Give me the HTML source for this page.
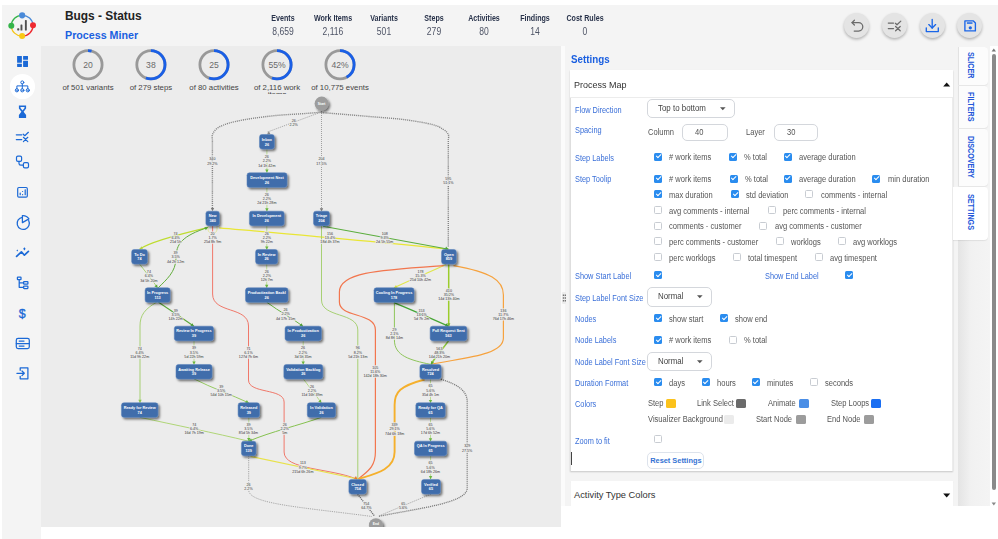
<!DOCTYPE html>
<html><head><meta charset="utf-8">
<style>
*{box-sizing:border-box;margin:0;padding:0}
html,body{width:998px;height:539px;overflow:hidden;background:#fff;font-family:"Liberation Sans",sans-serif;position:relative}
.a{position:absolute}
.t{position:absolute;line-height:1;white-space:nowrap}
#side{left:2px;top:5px;width:39px;height:534px;background:#f4f4f4}
#head{left:41px;top:5px;width:957px;height:41px;background:#f4f4f4}
#graph{left:41px;top:46px;width:520px;height:481px;background:#ececec;overflow:hidden}
#split{left:561px;top:46px;width:4px;height:460px;background:#fbfbfb}
#panel{left:565px;top:46px;width:433px;height:460px;background:#f4f4f4}
.st{font-weight:bold;font-size:8.4px;color:#28324a;text-align:center;width:50px;transform:scaleX(.85)}
.sv{font-size:10px;color:#4e5466;text-align:center;width:50px;transform:scaleX(.855)}
.btn{width:25px;height:25px;border-radius:50%;background:#e4e4e4;box-shadow:0 1.5px 3px rgba(0,0,0,.28)}
.lbl{font-size:7.5px;color:#3a6fd8}
.ct{font-size:7.6px;color:#555}
.cb{position:absolute;width:8px;height:8px;border-radius:1.5px;background:#2a8cef}
.cb::after{content:"";position:absolute;left:2.75px;top:0.9px;width:2.2px;height:4.4px;border:solid #fff;border-width:0 1.3px 1.3px 0;transform:rotate(45deg)}
.cu{position:absolute;width:8px;height:8px;border-radius:1.5px;border:1px solid #c8ccd2;background:#fff}
.dd{position:absolute;border:1px solid #d4d7dc;border-radius:5px;background:#fff}
.sw{position:absolute;width:10px;height:9px;border-radius:1.5px}
.tab{position:absolute;left:958px;width:30px;background:#fcfcfc;border-radius:0 4px 4px 0;box-shadow:inset 1px 0 0 #e2e2e2, 0 1px 1px rgba(0,0,0,.06)}
.tabt{position:absolute;font-weight:bold;font-size:8.4px;color:#2458da;transform-origin:0 0;transform:rotate(90deg) scaleX(0.86);white-space:nowrap;line-height:1}
</style></head><body>
<div class="a" id="side"></div>
<div class="a" id="head"></div>
<div class="a" id="graph"></div>
<div class="a" id="split"></div>
<div class="a" id="panel"></div>

<!-- logo -->
<svg class="a" style="left:0;top:0" width="45" height="46" viewBox="0 0 45 46">
 <path d="M22.15 15.3 A10.6 10.6 0 0 1 33 25.3" fill="none" stroke="#4a8ad8" stroke-width="1.3"/>
 <path d="M33 25.3 A10.6 10.6 0 0 1 22.15 36.1" fill="none" stroke="#ee2a30" stroke-width="1.3"/>
 <path d="M22.15 36.1 A10.6 10.6 0 0 1 11.3 25.7" fill="none" stroke="#f5c518" stroke-width="1.3"/>
 <path d="M11.3 25.7 A10.6 10.6 0 0 1 22.15 15.3" fill="none" stroke="#35b44a" stroke-width="1.3"/>
 <circle cx="22.15" cy="15.3" r="3.1" fill="#4a8ad8"/>
 <circle cx="33" cy="25.3" r="3" fill="#ee2a30"/>
 <circle cx="22.15" cy="36.1" r="3" fill="#f8c815"/>
 <circle cx="11.3" cy="25.7" r="3" fill="#35b44a"/>
 <rect x="17.2" y="28.3" width="2.1" height="2.1" rx=".6" fill="#505050"/>
 <rect x="20.5" y="24.5" width="1.9" height="6" rx=".6" fill="#505050"/>
 <rect x="24.9" y="20.1" width="1.9" height="10.4" rx=".6" fill="#505050"/>
</svg>

<div class="t" style="left:65px;top:11px;font-size:11.9px;font-weight:bold;color:#222">Bugs - Status</div>
<div class="t" style="left:65px;top:30px;font-size:10.7px;font-weight:bold;color:#1a5fe0">Process Miner</div>

<!-- stats -->
<div class="t st" style="left:257.5px;top:14.3px">Events</div><div class="t sv" style="left:257.5px;top:26.5px">8,659</div>
<div class="t st" style="left:308px;top:14.3px">Work Items</div><div class="t sv" style="left:308px;top:26.5px">2,116</div>
<div class="t st" style="left:358.5px;top:14.3px">Variants</div><div class="t sv" style="left:358.5px;top:26.5px">501</div>
<div class="t st" style="left:409px;top:14.3px">Steps</div><div class="t sv" style="left:409px;top:26.5px">279</div>
<div class="t st" style="left:459px;top:14.3px">Activities</div><div class="t sv" style="left:459px;top:26.5px">80</div>
<div class="t st" style="left:509.5px;top:14.3px">Findings</div><div class="t sv" style="left:509.5px;top:26.5px">14</div>
<div class="t st" style="left:560px;top:14.3px">Cost Rules</div><div class="t sv" style="left:560px;top:26.5px">0</div>

<!-- top buttons -->
<div class="a btn" style="left:844px;top:13.3px"></div>
<div class="a btn" style="left:881.7px;top:13.3px"></div>
<div class="a btn" style="left:919.5px;top:13.3px"></div>
<div class="a btn" style="left:957px;top:13.3px"></div>


<!-- top button icons -->
<svg class="a" style="left:0;top:0" width="998" height="46" viewBox="0 0 998 46">
 <g fill="none" stroke="#6a6a6a" stroke-width="1.25" stroke-linecap="round" stroke-linejoin="round">
  <path d="M852 22.6 H858.6 A4.2 4.2 0 0 1 858.6 31 H854.2"/>
  <path d="M854.4 20.2 L852 22.6 L854.4 25"/>
  <path d="M888.3 23.1 H893.5 M888.3 28.6 H893.5"/>
  <path d="M895.4 23.3 L897 24.8 L900.8 21.1"/>
  <path d="M895.6 26.5 L900.2 30.8 M900.2 26.5 L895.6 30.8"/>
 </g>
 <g fill="none" stroke="#1a66e8" stroke-width="1.35" stroke-linecap="round" stroke-linejoin="round">
  <path d="M932.2 19.5 V28"/>
  <path d="M928.8 24.6 L932.2 28 L935.6 24.6"/>
  <path d="M926.3 27.8 V31.6 H938.3 V27.8"/>
  <path d="M964.9 20.9 H973.4 L975.4 22.9 V30.9 H964.9 Z"/>
 </g>
 <rect x="966.9" y="22.3" width="5.6" height="1.5" fill="#1a66e8"/>
 <circle cx="970.3" cy="27.8" r="1.65" fill="#1a66e8"/>
</svg>

<!-- sidebar icons -->
<div class="a" style="left:10.2px;top:74.2px;width:24.6px;height:24.6px;border-radius:50%;background:#fff"></div>
<svg class="a" style="left:0;top:46px" width="41" height="350" viewBox="0 46 41 350">
 <g fill="#1b69d6">
  <rect x="17.1" y="56" width="4.8" height="6.8" rx=".3"/>
  <rect x="17.1" y="63.8" width="4.8" height="3.1" rx=".3"/>
  <rect x="23.1" y="56" width="4.9" height="3.8" rx=".3"/>
  <rect x="23.1" y="60.8" width="4.9" height="6.1" rx=".3"/>
 </g>
 <g fill="none" stroke="#1b69d6" stroke-width="1" stroke-linecap="round" stroke-linejoin="round">
  <circle cx="22.3" cy="82.4" r="1.5"/>
  <path d="M22.3 83.9 V88.6 M16.9 88.6 V85.9 H27.8 V88.6"/>
  <circle cx="16.9" cy="90.3" r="1.6"/>
  <circle cx="22.3" cy="90.3" r="1.6"/>
  <circle cx="27.8" cy="90.3" r="1.6"/>
  <path d="M16.2 90.3 H17.6 M21.6 90.3 H23 M27.1 90.3 H28.5" stroke-width=".8"/>
 </g>
 <!-- hourglass -->
 <path fill-rule="evenodd" d="M18.9 105.6 H26.1 V108.4 L23.6 111.8 L26.1 114.9 V118 H18.9 V114.9 L21.4 111.8 L18.9 108.4 Z M20.5 107.1 H24.5 V108 L22.5 110.6 L20.5 108 Z" fill="#1b69d6"/>
 <g fill="none" stroke="#1b69d6" stroke-width="1.2" stroke-linecap="round" stroke-linejoin="round">
  <path d="M16.3 134.8 H21.8 M16.3 139.6 H21.8"/>
  <path d="M23.2 134.2 L24.8 135.7 L28.4 132.3"/>
  <path d="M23.4 137.3 L27.8 141.6 M27.8 137.3 L23.4 141.6"/>
  <!-- workflow -->
  <rect x="16.5" y="156.2" width="5.1" height="5.1" rx="1.4"/>
  <rect x="23.4" y="162.7" width="5.1" height="5.1" rx="1.4"/>
  <path d="M19 161.3 V163.5 Q19 165.2 20.8 165.2 H23.4"/>
  <!-- report -->
  <rect x="17.7" y="187.5" width="9.6" height="9.6" rx="1.2"/>
 </g>
 <g fill="#1b69d6">
  <rect x="19.6" y="192.4" width="1.2" height="2.8" rx=".5"/>
  <rect x="22" y="190.9" width="1.2" height="1.2" rx=".5"/>
  <rect x="22" y="193.9" width="1.2" height="1.3" rx=".5"/>
  <rect x="24.6" y="189.2" width="1.2" height="6" rx=".5"/>
 </g>
 <g fill="none" stroke="#1b69d6" stroke-width="1.25" stroke-linecap="round" stroke-linejoin="round">
  <!-- pie -->
  <path d="M28.7 220.6 A6.1 6.1 0 1 1 22.4 217.3"/>
  <path d="M22.4 222.6 V215.6 A7 7 0 0 1 28.9 218.9 Z"/>
  <!-- trend -->
  <path d="M16.6 256.4 L21.4 251.8 L24.4 255.2 L28.4 251.4" stroke-width="1.7"/>
  <!-- tree -->
  <rect x="17.4" y="277.1" width="3.6" height="2.6" rx=".5"/>
  <path d="M19.2 279.7 V287.3 H23.6 M19.2 282.9 H23.6"/>
  <rect x="23.6" y="281.6" width="4.3" height="2.6" rx=".5"/>
  <rect x="23.6" y="286" width="4.3" height="2.6" rx=".5"/>
  <!-- server -->
  <rect x="16.3" y="338.4" width="13" height="10.2" rx="1.8"/>
  <path d="M16.3 343.5 H29.3 M19.2 341 H24 M19.2 346 H24"/>
  <!-- login -->
  <path d="M20.2 370.3 V367.8 H27.9 V378.8 H20.2 V376.3"/>
  <path d="M16.9 373.3 H24.3 M22 371 L24.3 373.3 L22 375.6"/>
 </g>
 <path d="M17.3 249.6 l.8 .9 -.8 .9 -.8 -.9z" fill="#1b69d6"/>
 <path d="M24.4 247.2 l1.2 1.6 -1.2 1.6 -1.2 -1.6z" fill="#1b69d6"/>
 <text x="22.2" y="318.4" font-family="Liberation Sans" font-size="12.4" fill="#1b69d6" stroke="#1b69d6" stroke-width=".35" text-anchor="middle">$</text>
</svg>

<!-- circle stats -->
<div class="a" style="left:41px;top:46px;width:520px;height:47.6px;overflow:hidden">
<svg class="a" style="left:0;top:0" width="520" height="48" viewBox="41 46 520 48">
 <g fill="none" stroke-width="2.8">
  <circle cx="88" cy="64.8" r="14.1" stroke="#999"/>
  <circle cx="150.9" cy="64.8" r="14.1" stroke="#999"/>
  <circle cx="214" cy="64.8" r="14.1" stroke="#999"/>
  <circle cx="277" cy="64.8" r="14.1" stroke="#999"/>
  <circle cx="340" cy="64.8" r="14.1" stroke="#999"/>
  <g stroke="#1a5fe6" stroke-dasharray="var(--d) 200" transform-origin="0 0">
   <circle cx="88" cy="64.8" r="14.1" transform="rotate(-90 88 64.8)" stroke-dasharray="3.6 200"/>
   <circle cx="150.9" cy="64.8" r="14.1" transform="rotate(-90 150.9 64.8)" stroke-dasharray="49.1 200"/>
   <circle cx="214" cy="64.8" r="14.1" transform="rotate(-90 214 64.8)" stroke-dasharray="49.1 200"/>
   <circle cx="277" cy="64.8" r="14.1" transform="rotate(-90 277 64.8)" stroke-dasharray="49.1 200"/>
   <circle cx="340" cy="64.8" r="14.1" transform="rotate(-90 340 64.8)" stroke-dasharray="37.2 200"/>
  </g>
 </g>
 <g font-family="Liberation Sans" font-size="8.6" fill="#6a6a6a" text-anchor="middle">
  <text x="88" y="67.9">20</text>
  <text x="150.9" y="67.9">38</text>
  <text x="214" y="67.9">25</text>
  <text x="277" y="67.9">55%</text>
  <text x="340" y="67.9">42%</text>
 </g>
 <g font-family="Liberation Sans" font-size="7.8" fill="#444" text-anchor="middle">
  <text x="88" y="90">of 501 variants</text>
  <text x="150.9" y="90">of 279 steps</text>
  <text x="214" y="90">of 80 activities</text>
  <text x="277" y="90">of 2,116 work</text>
  <text x="277" y="97.2">items</text>
  <text x="340" y="90">of 10,775 events</text>
 </g>
</svg>
</div>
<!-- graph -->
<svg class="a" style="left:41px;top:93px" width="520" height="434" viewBox="41 93 520 434">
<defs><filter id="sh" x="-30%" y="-30%" width="170%" height="190%"><feDropShadow dx="1.6" dy="1.8" stdDeviation="0.9" flood-color="#000" flood-opacity="0.55"/></filter></defs>
<path d="M321.5 112.4 C320.72 112.43 320.18 112.37 316.8 112.6 C313.42 112.83 307.82 113.33 301.2 113.8 C294.58 114.27 285.12 114.65 277.1 115.4 C269.08 116.15 260.10 117.27 253.1 118.3 C246.10 119.33 240.12 120.45 235.1 121.6 C230.08 122.75 226.22 123.88 223 125.2 C219.78 126.52 217.57 127.88 215.8 129.5 C214.03 131.12 212.97 133.15 212.4 134.9 C211.83 136.65 212.40 139.15 212.4 140 L212.4 209" fill="none" stroke="#858585" stroke-width="1.4" stroke-dasharray="1.1 0.95"/>
<path d="M318 113.2 L267.5 132" fill="none" stroke="#8a8a8a" stroke-width="0.7" stroke-dasharray="1.2 1"/>
<path d="M321.5 111 L321.5 209.5" fill="none" stroke="#808080" stroke-width="0.8" stroke-dasharray="0.9 1.1"/>
<path d="M321.5 112.6 C325.92 112.95 338.90 113.95 348 114.7 C357.10 115.45 366.73 116.28 376.1 117.1 C385.47 117.92 394.85 118.37 404.2 119.6 C413.55 120.83 425.67 122.85 432.2 124.5 C438.73 126.15 440.72 127.85 443.4 129.5 C446.08 131.15 447.48 132.65 448.3 134.4 C449.12 136.15 448.30 139.07 448.3 140 L448.3 247.5" fill="none" stroke="#858585" stroke-width="1.4" stroke-dasharray="1.1 0.95"/>
<path d="M266.9 149.4 V172.5" fill="none" stroke="#a9d46e" stroke-width="0.7"/>
<path d="M266.9 187.5 V211.2" fill="none" stroke="#a9d46e" stroke-width="0.7"/>
<path d="M266.8 226 V249.5" fill="none" stroke="#a9d46e" stroke-width="0.7"/>
<path d="M266.7 264.2 V287.7" fill="none" stroke="#a9d46e" stroke-width="0.7"/>
<path d="M266.8 302.3 C 280 312, 292 318, 303 326.3" fill="none" stroke="#6cb444" stroke-width="1.0"/>
<path d="M303.2 340.9 V364.4" fill="none" stroke="#a9d46e" stroke-width="0.7"/>
<path d="M303.3 378.9 C 310 388, 315 394, 321.4 402.9" fill="none" stroke="#a9d46e" stroke-width="0.8"/>
<path d="M321.4 417.3 C 300 425, 270 432, 248.7 441.2" fill="none" stroke="#86c250" stroke-width="1.0"/>
<path d="M207.5 227.6 C 180 234, 150 242, 139.5 249.2" fill="none" stroke="#bedc2e" stroke-width="1.1"/>
<path d="M208 227.4 C 182 236, 176 244, 176 258 C 176 272, 166 280, 158.2 287.8" fill="none" stroke="#62ad3c" stroke-width="1.0"/>
<path d="M208.5 226 C 205 236, 220 236, 216.5 226" fill="none" stroke="#dfe587" stroke-width="0.8"/>
<path d="M219.2 227.8 C 300 235, 380 242, 448.5 249.2" fill="none" stroke="#e9e635" stroke-width="1.2"/>
<path d="M212.6 226 V294 C 212.6 314, 248.5 306, 248.5 326 V380 C 248.5 394, 284.1 388, 284.1 402 V452 C 284.1 470, 330 468, 356.5 479" fill="none" stroke="#f0786a" stroke-width="1.0"/>
<path d="M323 226.3 L448.5 249.2" fill="none" stroke="#5cae3e" stroke-width="1.15"/>
<path d="M321.5 225.9 V300 C 321.5 318, 357.8 312, 357.8 330 V479" fill="none" stroke="#9fcd66" stroke-width="0.9"/>
<path d="M139.5 264 C 146 272, 152 280, 157.6 287.7" fill="none" stroke="#a2d069" stroke-width="0.9"/>
<path d="M158.5 302.3 C 170 310, 182 318, 193.9 326.3" fill="none" stroke="#5aa83a" stroke-width="1.1"/>
<path d="M156.5 302.3 C 145 309, 140 315, 140 326 V402.8" fill="none" stroke="#9fcd66" stroke-width="0.9"/>
<path d="M194 340.9 V364.4" fill="none" stroke="#a9d46e" stroke-width="0.7"/>
<path d="M194 378.9 C 212 388, 232 395, 248.8 402.9" fill="none" stroke="#8dc653" stroke-width="0.9"/>
<path d="M248.8 417.3 V441.2" fill="none" stroke="#a9d46e" stroke-width="0.7"/>
<path d="M139.7 417.3 C 175 425, 215 433, 248.7 441.2" fill="none" stroke="#b0d677" stroke-width="1.0"/>
<path d="M250.5 456.4 L357.6 479" fill="none" stroke="#e8e24a" stroke-width="1.2"/>
<path d="M248.7 455.6 V490 C 248.7 504, 300 507, 372 516.5" fill="none" stroke="#888" stroke-width="0.7" stroke-dasharray="1.2 1"/>
<path d="M446 264.4 C 430 272, 410 280, 394 287.8" fill="none" stroke="#dfe64b" stroke-width="1.1"/>
<path d="M448.7 264.3 V326.2" fill="none" stroke="#9ccd2c" stroke-width="1.5"/>
<path d="M443.6 265.6 C 380 270, 339.4 272, 339.4 292 V302 C 339.4 318, 375.4 312, 375.4 330 V452 C 375.4 468, 366 472, 358.5 479" fill="none" stroke="#f2764e" stroke-width="1.2"/>
<path d="M453.5 265.6 C 490 272, 503.4 280, 503.4 295 V338 C 503.4 356, 460 358, 431 364.4" fill="none" stroke="#f6a23e" stroke-width="1.2"/>
<path d="M394 302.6 C 412 310, 430 318, 448.5 326.2" fill="none" stroke="#45a535" stroke-width="1.3"/>
<path d="M394.4 302.6 V340 C 394.4 356, 410 360, 430.5 364.4" fill="none" stroke="#8ec55a" stroke-width="1.0"/>
<path d="M448.5 340.9 C 442 350, 436 356, 431 364.4" fill="none" stroke="#8cc63f" stroke-width="1.6"/>
<path d="M430.5 379.3 V403" fill="none" stroke="#a9d46e" stroke-width="0.7"/>
<path d="M430.5 417.5 V441.3" fill="none" stroke="#a9d46e" stroke-width="0.7"/>
<path d="M430.6 455.6 V479.1" fill="none" stroke="#a9d46e" stroke-width="0.7"/>
<path d="M424.6 379.5 C 400 386, 394.6 392, 394.6 405 V452 C 394.6 470, 375 474, 358.5 479" fill="none" stroke="#f5b02c" stroke-width="1.9"/>
<path d="M441 379.3 C 460 385, 467.2 392, 467.2 402 V488 C 467.2 503, 420 508, 379 516.3" fill="none" stroke="#7a7a7a" stroke-width="1.3" stroke-dasharray="1.1 0.9"/>
<path d="M357.6 494.1 L374.5 516" fill="none" stroke="#6e6e6e" stroke-width="1.4" stroke-dasharray="1.1 0.9"/>
<path d="M431 494.1 L378 516.3" fill="none" stroke="#8a8a8a" stroke-width="0.7" stroke-dasharray="1.2 1"/>
<path d="M212.50 211.30 L210.80 208.10 L214.20 208.10Z" fill="#777"/>
<path d="M266.90 134.40 L268.82 131.33 L270.52 134.27Z" fill="#888"/>
<path d="M321.50 211.50 L319.80 208.30 L323.20 208.30Z" fill="#777"/>
<path d="M266.90 172.80 L265.20 169.60 L268.60 169.60Z" fill="#6ab640"/>
<path d="M266.90 211.50 L265.20 208.30 L268.60 208.30Z" fill="#6ab640"/>
<path d="M266.80 249.80 L265.10 246.60 L268.50 246.60Z" fill="#6ab640"/>
<path d="M266.70 288.00 L265.00 284.80 L268.40 284.80Z" fill="#6ab640"/>
<path d="M303.00 326.50 L299.46 325.75 L301.64 323.14Z" fill="#4f9e30"/>
<path d="M303.20 364.60 L301.50 361.40 L304.90 361.40Z" fill="#6ab640"/>
<path d="M321.40 403.10 L318.17 401.45 L320.96 399.50Z" fill="#6ab640"/>
<path d="M248.70 441.30 L251.13 438.61 L252.29 441.80Z" fill="#5aa83a"/>
<path d="M139.50 249.40 L141.42 246.33 L143.12 249.27Z" fill="#b5d443"/>
<path d="M208.00 227.30 L205.82 230.19 L204.38 227.11Z" fill="#58a935"/>
<path d="M157.60 288.00 L154.37 286.35 L157.16 284.40Z" fill="#58a935"/>
<path d="M193.90 326.50 L190.36 325.75 L192.54 323.14Z" fill="#4f9e30"/>
<path d="M140.00 403.00 L138.30 399.80 L141.70 399.80Z" fill="#8dc653"/>
<path d="M194.00 364.60 L192.30 361.40 L195.70 361.40Z" fill="#6ab640"/>
<path d="M248.80 403.10 L245.18 402.97 L246.88 400.03Z" fill="#6ab640"/>
<path d="M248.80 441.30 L247.10 438.10 L250.50 438.10Z" fill="#6ab640"/>
<path d="M357.60 479.30 L354.00 478.86 L355.95 476.07Z" fill="#e67a30"/>
<path d="M448.50 249.30 L444.91 249.80 L446.07 246.61Z" fill="#4ea83a"/>
<path d="M394.00 288.00 L395.92 284.93 L397.62 287.87Z" fill="#d8e040"/>
<path d="M448.70 326.40 L447.00 323.20 L450.40 323.20Z" fill="#7ab82e"/>
<path d="M448.50 326.40 L444.88 326.27 L446.58 323.33Z" fill="#3d9a2c"/>
<path d="M431.00 364.60 L431.13 360.98 L434.07 362.68Z" fill="#5ca82c"/>
<path d="M430.50 403.10 L428.80 399.90 L432.20 399.90Z" fill="#6ab640"/>
<path d="M430.50 441.40 L428.80 438.20 L432.20 438.20Z" fill="#6ab640"/>
<path d="M430.60 479.20 L428.90 476.00 L432.30 476.00Z" fill="#6ab640"/>
<g font-family="Liberation Sans" font-size="3.95" fill="#383838" text-anchor="middle" stroke="#ececec" stroke-width="1.4" paint-order="stroke" stroke-linejoin="round">
<text x="212.4" y="160.35" textLength="6.09" lengthAdjust="spacingAndGlyphs">340</text>
<text x="212.4" y="164.60" textLength="10.35" lengthAdjust="spacingAndGlyphs">29.2%</text>
<text x="321.5" y="160.45" textLength="6.09" lengthAdjust="spacingAndGlyphs">204</text>
<text x="321.5" y="164.70" textLength="10.35" lengthAdjust="spacingAndGlyphs">17.5%</text>
<text x="293.7" y="121.95" textLength="4.06" lengthAdjust="spacingAndGlyphs">26</text>
<text x="293.7" y="126.20" textLength="8.32" lengthAdjust="spacingAndGlyphs">2.2%</text>
<text x="266.8" y="158.05" textLength="4.06" lengthAdjust="spacingAndGlyphs">26</text>
<text x="266.8" y="162.30" textLength="8.32" lengthAdjust="spacingAndGlyphs">2.2%</text>
<text x="266.8" y="166.55" textLength="17.25" lengthAdjust="spacingAndGlyphs">1d 1h 42m</text>
<text x="448.3" y="179.65" textLength="6.09" lengthAdjust="spacingAndGlyphs">595</text>
<text x="448.3" y="183.90" textLength="10.35" lengthAdjust="spacingAndGlyphs">51.1%</text>
<text x="266.8" y="195.95" textLength="4.06" lengthAdjust="spacingAndGlyphs">26</text>
<text x="266.8" y="200.20" textLength="8.32" lengthAdjust="spacingAndGlyphs">2.2%</text>
<text x="266.8" y="204.45" textLength="19.28" lengthAdjust="spacingAndGlyphs">2d 21h 28m</text>
<text x="175.6" y="234.85" textLength="4.06" lengthAdjust="spacingAndGlyphs">74</text>
<text x="175.6" y="239.10" textLength="8.32" lengthAdjust="spacingAndGlyphs">6.4%</text>
<text x="175.6" y="243.35" textLength="11.16" lengthAdjust="spacingAndGlyphs">21d 5h</text>
<text x="212.6" y="234.85" textLength="4.06" lengthAdjust="spacingAndGlyphs">20</text>
<text x="212.6" y="239.10" textLength="8.32" lengthAdjust="spacingAndGlyphs">1.7%</text>
<text x="212.6" y="243.35" textLength="17.25" lengthAdjust="spacingAndGlyphs">25d 8h 9m</text>
<text x="266.8" y="234.85" textLength="4.06" lengthAdjust="spacingAndGlyphs">26</text>
<text x="266.8" y="239.10" textLength="8.32" lengthAdjust="spacingAndGlyphs">2.2%</text>
<text x="266.8" y="243.35" textLength="12.17" lengthAdjust="spacingAndGlyphs">9h 22m</text>
<text x="330" y="234.65" textLength="6.09" lengthAdjust="spacingAndGlyphs">156</text>
<text x="330" y="238.90" textLength="10.35" lengthAdjust="spacingAndGlyphs">13.4%</text>
<text x="330" y="243.15" textLength="19.28" lengthAdjust="spacingAndGlyphs">18d 4h 37m</text>
<text x="384.7" y="234.65" textLength="6.09" lengthAdjust="spacingAndGlyphs">108</text>
<text x="384.7" y="238.90" textLength="8.32" lengthAdjust="spacingAndGlyphs">9.3%</text>
<text x="384.7" y="243.15" textLength="17.25" lengthAdjust="spacingAndGlyphs">2d 5h 55m</text>
<text x="175.6" y="254.05" textLength="4.06" lengthAdjust="spacingAndGlyphs">39</text>
<text x="175.6" y="258.30" textLength="8.32" lengthAdjust="spacingAndGlyphs">3.5%</text>
<text x="175.6" y="262.55" textLength="17.25" lengthAdjust="spacingAndGlyphs">4d 2h 12m</text>
<text x="148.9" y="273.15" textLength="4.06" lengthAdjust="spacingAndGlyphs">74</text>
<text x="148.9" y="277.40" textLength="8.32" lengthAdjust="spacingAndGlyphs">6.4%</text>
<text x="148.9" y="281.65" textLength="17.25" lengthAdjust="spacingAndGlyphs">3d 5h 20m</text>
<text x="266.8" y="272.95" textLength="4.06" lengthAdjust="spacingAndGlyphs">26</text>
<text x="266.8" y="277.20" textLength="8.32" lengthAdjust="spacingAndGlyphs">2.2%</text>
<text x="266.8" y="281.45" textLength="12.17" lengthAdjust="spacingAndGlyphs">12h 7m</text>
<text x="420.5" y="272.95" textLength="6.09" lengthAdjust="spacingAndGlyphs">178</text>
<text x="420.5" y="277.20" textLength="10.35" lengthAdjust="spacingAndGlyphs">15.3%</text>
<text x="420.5" y="281.45" textLength="21.31" lengthAdjust="spacingAndGlyphs">25d 10h 42m</text>
<text x="448.9" y="291.95" textLength="6.09" lengthAdjust="spacingAndGlyphs">410</text>
<text x="448.9" y="296.20" textLength="10.35" lengthAdjust="spacingAndGlyphs">35.2%</text>
<text x="448.9" y="300.45" textLength="21.31" lengthAdjust="spacingAndGlyphs">14d 13h 40m</text>
<text x="175.7" y="311.95" textLength="4.06" lengthAdjust="spacingAndGlyphs">39</text>
<text x="175.7" y="316.20" textLength="8.32" lengthAdjust="spacingAndGlyphs">3.5%</text>
<text x="175.7" y="320.45" textLength="14.20" lengthAdjust="spacingAndGlyphs">14h 22m</text>
<text x="285.6" y="311.05" textLength="4.06" lengthAdjust="spacingAndGlyphs">26</text>
<text x="285.6" y="315.30" textLength="8.32" lengthAdjust="spacingAndGlyphs">2.2%</text>
<text x="285.6" y="319.55" textLength="19.28" lengthAdjust="spacingAndGlyphs">4d 17h 15m</text>
<text x="421.6" y="311.65" textLength="6.09" lengthAdjust="spacingAndGlyphs">153</text>
<text x="421.6" y="315.90" textLength="10.35" lengthAdjust="spacingAndGlyphs">13.1%</text>
<text x="421.6" y="320.15" textLength="15.22" lengthAdjust="spacingAndGlyphs">5d 7h 2m</text>
<text x="503.4" y="311.65" textLength="6.09" lengthAdjust="spacingAndGlyphs">136</text>
<text x="503.4" y="315.90" textLength="10.08" lengthAdjust="spacingAndGlyphs">11.7%</text>
<text x="503.4" y="320.15" textLength="21.31" lengthAdjust="spacingAndGlyphs">76d 17h 46m</text>
<text x="394.4" y="330.65" textLength="4.06" lengthAdjust="spacingAndGlyphs">29</text>
<text x="394.4" y="334.90" textLength="8.32" lengthAdjust="spacingAndGlyphs">2.1%</text>
<text x="394.4" y="339.15" textLength="17.25" lengthAdjust="spacingAndGlyphs">8d 8h 14m</text>
<text x="139.7" y="349.75" textLength="4.06" lengthAdjust="spacingAndGlyphs">74</text>
<text x="139.7" y="354.00" textLength="8.32" lengthAdjust="spacingAndGlyphs">6.4%</text>
<text x="139.7" y="358.25" textLength="19.01" lengthAdjust="spacingAndGlyphs">11d 9h 22m</text>
<text x="194" y="349.45" textLength="4.06" lengthAdjust="spacingAndGlyphs">39</text>
<text x="194" y="353.70" textLength="8.32" lengthAdjust="spacingAndGlyphs">3.5%</text>
<text x="194" y="357.95" textLength="19.28" lengthAdjust="spacingAndGlyphs">5d 22h 59m</text>
<text x="248.5" y="349.65" textLength="4.06" lengthAdjust="spacingAndGlyphs">71</text>
<text x="248.5" y="353.90" textLength="8.32" lengthAdjust="spacingAndGlyphs">6.1%</text>
<text x="248.5" y="358.15" textLength="19.28" lengthAdjust="spacingAndGlyphs">127d 7h 6m</text>
<text x="303" y="349.45" textLength="4.06" lengthAdjust="spacingAndGlyphs">26</text>
<text x="303" y="353.70" textLength="8.32" lengthAdjust="spacingAndGlyphs">2.2%</text>
<text x="303" y="357.95" textLength="17.25" lengthAdjust="spacingAndGlyphs">3d 5h 35m</text>
<text x="357.8" y="349.45" textLength="4.06" lengthAdjust="spacingAndGlyphs">96</text>
<text x="357.8" y="353.70" textLength="8.32" lengthAdjust="spacingAndGlyphs">8.2%</text>
<text x="357.8" y="357.95" textLength="19.28" lengthAdjust="spacingAndGlyphs">5d 21h 13m</text>
<text x="439.4" y="349.65" textLength="6.09" lengthAdjust="spacingAndGlyphs">563</text>
<text x="439.4" y="353.90" textLength="10.35" lengthAdjust="spacingAndGlyphs">48.3%</text>
<text x="439.4" y="358.15" textLength="21.31" lengthAdjust="spacingAndGlyphs">14d 21h 20m</text>
<text x="375.2" y="368.85" textLength="6.09" lengthAdjust="spacingAndGlyphs">105</text>
<text x="375.2" y="373.10" textLength="10.08" lengthAdjust="spacingAndGlyphs">11.6%</text>
<text x="375.2" y="377.35" textLength="23.34" lengthAdjust="spacingAndGlyphs">142d 18h 30m</text>
<text x="221.2" y="387.75" textLength="4.06" lengthAdjust="spacingAndGlyphs">39</text>
<text x="221.2" y="392.00" textLength="8.32" lengthAdjust="spacingAndGlyphs">3.5%</text>
<text x="221.2" y="396.25" textLength="21.31" lengthAdjust="spacingAndGlyphs">54d 10h 15m</text>
<text x="312" y="387.75" textLength="4.06" lengthAdjust="spacingAndGlyphs">26</text>
<text x="312" y="392.00" textLength="8.32" lengthAdjust="spacingAndGlyphs">2.2%</text>
<text x="312" y="396.25" textLength="21.04" lengthAdjust="spacingAndGlyphs">11d 16h 39m</text>
<text x="430.5" y="387.45" textLength="4.06" lengthAdjust="spacingAndGlyphs">65</text>
<text x="430.5" y="391.70" textLength="8.32" lengthAdjust="spacingAndGlyphs">5.6%</text>
<text x="430.5" y="395.95" textLength="17.25" lengthAdjust="spacingAndGlyphs">35d 4h 1m</text>
<text x="194.2" y="425.85" textLength="4.06" lengthAdjust="spacingAndGlyphs">74</text>
<text x="194.2" y="430.10" textLength="8.32" lengthAdjust="spacingAndGlyphs">6.4%</text>
<text x="194.2" y="434.35" textLength="19.28" lengthAdjust="spacingAndGlyphs">16d 7h 19m</text>
<text x="248.5" y="425.85" textLength="4.06" lengthAdjust="spacingAndGlyphs">39</text>
<text x="248.5" y="430.10" textLength="8.32" lengthAdjust="spacingAndGlyphs">3.5%</text>
<text x="248.5" y="434.35" textLength="19.28" lengthAdjust="spacingAndGlyphs">85d 5h 34m</text>
<text x="284.7" y="425.85" textLength="4.06" lengthAdjust="spacingAndGlyphs">26</text>
<text x="284.7" y="430.10" textLength="8.32" lengthAdjust="spacingAndGlyphs">2.2%</text>
<text x="284.7" y="434.35" textLength="5.07" lengthAdjust="spacingAndGlyphs">5m</text>
<text x="394.6" y="426.05" textLength="6.09" lengthAdjust="spacingAndGlyphs">339</text>
<text x="394.6" y="430.30" textLength="10.35" lengthAdjust="spacingAndGlyphs">29.1%</text>
<text x="394.6" y="434.55" textLength="19.28" lengthAdjust="spacingAndGlyphs">74d 6h 18m</text>
<text x="430.5" y="425.95" textLength="4.06" lengthAdjust="spacingAndGlyphs">65</text>
<text x="430.5" y="430.20" textLength="8.32" lengthAdjust="spacingAndGlyphs">5.6%</text>
<text x="430.5" y="434.45" textLength="19.28" lengthAdjust="spacingAndGlyphs">17d 6h 52m</text>
<text x="467.2" y="447.25" textLength="6.09" lengthAdjust="spacingAndGlyphs">329</text>
<text x="467.2" y="451.50" textLength="10.35" lengthAdjust="spacingAndGlyphs">27.5%</text>
<text x="302.8" y="464.45" textLength="5.82" lengthAdjust="spacingAndGlyphs">113</text>
<text x="302.8" y="468.70" textLength="8.32" lengthAdjust="spacingAndGlyphs">9.7%</text>
<text x="302.8" y="472.95" textLength="21.31" lengthAdjust="spacingAndGlyphs">215d 6h 26m</text>
<text x="430.5" y="464.45" textLength="4.06" lengthAdjust="spacingAndGlyphs">65</text>
<text x="430.5" y="468.70" textLength="8.32" lengthAdjust="spacingAndGlyphs">5.6%</text>
<text x="430.5" y="472.95" textLength="19.28" lengthAdjust="spacingAndGlyphs">6d 18h 26m</text>
<text x="248.5" y="485.75" textLength="4.06" lengthAdjust="spacingAndGlyphs">26</text>
<text x="248.5" y="490.00" textLength="8.32" lengthAdjust="spacingAndGlyphs">2.2%</text>
<text x="366.3" y="504.95" textLength="6.09" lengthAdjust="spacingAndGlyphs">754</text>
<text x="366.3" y="509.20" textLength="10.35" lengthAdjust="spacingAndGlyphs">64.7%</text>
<text x="403.2" y="504.95" textLength="4.06" lengthAdjust="spacingAndGlyphs">65</text>
<text x="403.2" y="509.20" textLength="8.32" lengthAdjust="spacingAndGlyphs">5.6%</text>
</g>
<g filter="url(#sh)"><circle cx="321.6" cy="103.6" r="7" fill="#9d9d9d"/><circle cx="375.9" cy="525.2" r="7" fill="#9d9d9d"/></g>
<g font-family="Liberation Sans" font-weight="bold" font-size="3.3" fill="#fff" text-anchor="middle"><text x="321.6" y="104.8">Start</text><text x="375.9" y="524.9">End</text></g>
<g filter="url(#sh)">
<rect x="259.50" y="134.50" width="14.8" height="14.5" rx="2.4" fill="#3f6dab" stroke="#5a82bc" stroke-width="0.5"/>
<rect x="247.00" y="172.83" width="40" height="14.5" rx="2.4" fill="#3f6dab" stroke="#5a82bc" stroke-width="0.5"/>
<rect x="205.90" y="211.16" width="13.4" height="14.5" rx="2.4" fill="#3f6dab" stroke="#5a82bc" stroke-width="0.5"/>
<rect x="249.40" y="211.16" width="34.7" height="14.5" rx="2.4" fill="#3f6dab" stroke="#5a82bc" stroke-width="0.5"/>
<rect x="313.55" y="211.16" width="15.9" height="14.5" rx="2.4" fill="#3f6dab" stroke="#5a82bc" stroke-width="0.5"/>
<rect x="131.65" y="249.49" width="15.7" height="14.5" rx="2.4" fill="#3f6dab" stroke="#5a82bc" stroke-width="0.5"/>
<rect x="255.60" y="249.49" width="22" height="14.5" rx="2.4" fill="#3f6dab" stroke="#5a82bc" stroke-width="0.5"/>
<rect x="441.55" y="249.49" width="14.7" height="14.5" rx="2.4" fill="#3f6dab" stroke="#5a82bc" stroke-width="0.5"/>
<rect x="145.10" y="287.82" width="25" height="14.5" rx="2.4" fill="#3f6dab" stroke="#5a82bc" stroke-width="0.5"/>
<rect x="245.50" y="287.82" width="42.5" height="14.5" rx="2.4" fill="#3f6dab" stroke="#5a82bc" stroke-width="0.5"/>
<rect x="374.00" y="287.82" width="40" height="14.5" rx="2.4" fill="#3f6dab" stroke="#5a82bc" stroke-width="0.5"/>
<rect x="174.30" y="326.15" width="39.2" height="14.5" rx="2.4" fill="#3f6dab" stroke="#5a82bc" stroke-width="0.5"/>
<rect x="285.05" y="326.15" width="36.3" height="14.5" rx="2.4" fill="#3f6dab" stroke="#5a82bc" stroke-width="0.5"/>
<rect x="430.15" y="326.15" width="36.7" height="14.5" rx="2.4" fill="#3f6dab" stroke="#5a82bc" stroke-width="0.5"/>
<rect x="176.00" y="364.48" width="36" height="14.5" rx="2.4" fill="#3f6dab" stroke="#5a82bc" stroke-width="0.5"/>
<rect x="283.85" y="364.48" width="38.9" height="14.5" rx="2.4" fill="#3f6dab" stroke="#5a82bc" stroke-width="0.5"/>
<rect x="419.90" y="364.48" width="21.2" height="14.5" rx="2.4" fill="#3f6dab" stroke="#5a82bc" stroke-width="0.5"/>
<rect x="121.45" y="402.81" width="36.5" height="14.5" rx="2.4" fill="#3f6dab" stroke="#5a82bc" stroke-width="0.5"/>
<rect x="238.10" y="402.81" width="21.4" height="14.5" rx="2.4" fill="#3f6dab" stroke="#5a82bc" stroke-width="0.5"/>
<rect x="307.30" y="402.81" width="28.2" height="14.5" rx="2.4" fill="#3f6dab" stroke="#5a82bc" stroke-width="0.5"/>
<rect x="415.85" y="402.81" width="29.3" height="14.5" rx="2.4" fill="#3f6dab" stroke="#5a82bc" stroke-width="0.5"/>
<rect x="241.45" y="441.14" width="14.5" height="14.5" rx="2.4" fill="#3f6dab" stroke="#5a82bc" stroke-width="0.5"/>
<rect x="414.50" y="441.14" width="32.2" height="14.5" rx="2.4" fill="#3f6dab" stroke="#5a82bc" stroke-width="0.5"/>
<rect x="348.90" y="479.47" width="17.4" height="14.5" rx="2.4" fill="#3f6dab" stroke="#5a82bc" stroke-width="0.5"/>
<rect x="421.55" y="479.47" width="18.9" height="14.5" rx="2.4" fill="#3f6dab" stroke="#5a82bc" stroke-width="0.5"/>
</g>
<g font-family="Liberation Sans" font-weight="bold" font-size="4.3" fill="#fff" text-anchor="middle">
<text x="266.90" y="140.70" textLength="10.27" lengthAdjust="spacingAndGlyphs">Inbox</text><text x="266.90" y="145.50" textLength="4.28" lengthAdjust="spacingAndGlyphs">26</text>
<text x="267.00" y="179.03" textLength="33.59" lengthAdjust="spacingAndGlyphs">Development Next</text><text x="267.00" y="183.83" textLength="4.28" lengthAdjust="spacingAndGlyphs">26</text>
<text x="212.60" y="217.36" textLength="7.92" lengthAdjust="spacingAndGlyphs">New</text><text x="212.60" y="222.16" textLength="6.42" lengthAdjust="spacingAndGlyphs">340</text>
<text x="266.75" y="217.36" textLength="28.66" lengthAdjust="spacingAndGlyphs">In Development</text><text x="266.75" y="222.16" textLength="4.28" lengthAdjust="spacingAndGlyphs">26</text>
<text x="321.50" y="217.36" textLength="11.34" lengthAdjust="spacingAndGlyphs">Triage</text><text x="321.50" y="222.16" textLength="6.42" lengthAdjust="spacingAndGlyphs">204</text>
<text x="139.50" y="255.69" textLength="10.62" lengthAdjust="spacingAndGlyphs">To Do</text><text x="139.50" y="260.49" textLength="4.28" lengthAdjust="spacingAndGlyphs">74</text>
<text x="266.60" y="255.69" textLength="17.76" lengthAdjust="spacingAndGlyphs">In Review</text><text x="266.60" y="260.49" textLength="4.28" lengthAdjust="spacingAndGlyphs">26</text>
<text x="448.90" y="255.69" textLength="9.84" lengthAdjust="spacingAndGlyphs">Open</text><text x="448.90" y="260.49" textLength="6.42" lengthAdjust="spacingAndGlyphs">859</text>
<text x="157.60" y="294.02" textLength="21.18" lengthAdjust="spacingAndGlyphs">In Progress</text><text x="157.60" y="298.82" textLength="6.21" lengthAdjust="spacingAndGlyphs">113</text>
<text x="266.75" y="294.02" textLength="38.08" lengthAdjust="spacingAndGlyphs">Productization Backl</text><text x="266.75" y="298.82" textLength="4.28" lengthAdjust="spacingAndGlyphs">26</text>
<text x="394.00" y="294.02" textLength="36.58" lengthAdjust="spacingAndGlyphs">Cooling In Progress</text><text x="394.00" y="298.82" textLength="6.42" lengthAdjust="spacingAndGlyphs">178</text>
<text x="193.90" y="332.35" textLength="35.52" lengthAdjust="spacingAndGlyphs">Review In Progress</text><text x="193.90" y="337.15" textLength="4.28" lengthAdjust="spacingAndGlyphs">39</text>
<text x="303.20" y="332.35" textLength="31.22" lengthAdjust="spacingAndGlyphs">In Productization</text><text x="303.20" y="337.15" textLength="4.28" lengthAdjust="spacingAndGlyphs">26</text>
<text x="448.50" y="332.35" textLength="32.73" lengthAdjust="spacingAndGlyphs">Pull Request Sent</text><text x="448.50" y="337.15" textLength="6.42" lengthAdjust="spacingAndGlyphs">563</text>
<text x="194.00" y="370.68" textLength="31.59" lengthAdjust="spacingAndGlyphs">Awaiting Release</text><text x="194.00" y="375.48" textLength="4.28" lengthAdjust="spacingAndGlyphs">39</text>
<text x="303.30" y="370.68" textLength="34.23" lengthAdjust="spacingAndGlyphs">Validation Backlog</text><text x="303.30" y="375.48" textLength="4.28" lengthAdjust="spacingAndGlyphs">26</text>
<text x="430.50" y="370.68" textLength="17.12" lengthAdjust="spacingAndGlyphs">Resolved</text><text x="430.50" y="375.48" textLength="6.42" lengthAdjust="spacingAndGlyphs">724</text>
<text x="139.70" y="409.01" textLength="32.09" lengthAdjust="spacingAndGlyphs">Ready for Review</text><text x="139.70" y="413.81" textLength="4.28" lengthAdjust="spacingAndGlyphs">74</text>
<text x="248.80" y="409.01" textLength="16.91" lengthAdjust="spacingAndGlyphs">Released</text><text x="248.80" y="413.81" textLength="4.28" lengthAdjust="spacingAndGlyphs">39</text>
<text x="321.40" y="409.01" textLength="22.67" lengthAdjust="spacingAndGlyphs">In Validation</text><text x="321.40" y="413.81" textLength="4.28" lengthAdjust="spacingAndGlyphs">26</text>
<text x="430.50" y="409.01" textLength="24.60" lengthAdjust="spacingAndGlyphs">Ready for QA</text><text x="430.50" y="413.81" textLength="4.28" lengthAdjust="spacingAndGlyphs">65</text>
<text x="248.70" y="447.34" textLength="9.62" lengthAdjust="spacingAndGlyphs">Done</text><text x="248.70" y="452.14" textLength="6.42" lengthAdjust="spacingAndGlyphs">139</text>
<text x="430.60" y="447.34" textLength="27.88" lengthAdjust="spacingAndGlyphs">QA In Progress</text><text x="430.60" y="452.14" textLength="4.28" lengthAdjust="spacingAndGlyphs">65</text>
<text x="357.60" y="485.67" textLength="12.83" lengthAdjust="spacingAndGlyphs">Closed</text><text x="357.60" y="490.47" textLength="6.42" lengthAdjust="spacingAndGlyphs">754</text>
<text x="431.00" y="485.67" textLength="13.91" lengthAdjust="spacingAndGlyphs">Verified</text><text x="431.00" y="490.47" textLength="4.28" lengthAdjust="spacingAndGlyphs">65</text>
</g>
</svg>
<!-- /graph -->
<!-- settings panel -->
<div class="t " style="left:571.2px;top:54.68px;font-size:10.3px;transform:scaleX(0.95);transform-origin:0 0;font-weight:bold;color:#1a5fe0">Settings</div>
<div class="a" style="left:570px;top:70px;width:383px;height:401px;background:#fff;box-shadow:0 1px 1.5px rgba(0,0,0,.18)"></div>
<div class="a" style="left:570px;top:97px;width:383px;height:1px;background:#ececec"></div>
<div class="a" style="left:570px;top:98px;width:1px;height:373px;background:#dedede"></div>
<div class="a" style="left:952px;top:98px;width:1px;height:373px;background:#ececec"></div>
<div class="t " style="left:573.8px;top:80.04px;font-size:9.4px;transform:scaleX(0.96);transform-origin:0 0;color:#333">Process Map</div>
<svg class="a" style="left:943px;top:82px" width="8" height="5"><path d="M0.2 4.6 L3.7 0.6 L7.2 4.6Z" fill="#111"/></svg>
<div class="a" style="left:571px;top:481px;width:382px;height:25px;background:#fff;box-shadow:0 -0.5px 1px rgba(0,0,0,.08)"></div>
<div class="t " style="left:574.0px;top:491.33px;font-size:9.3px;color:#333">Activity Type Colors</div>
<svg class="a" style="left:943px;top:492.5px" width="8" height="5"><path d="M0.2 0.4 L3.7 4.4 L7.2 0.4Z" fill="#111"/></svg>
<div class="t lbl" style="left:574.5px;top:106.66px;font-size:8.2px;transform:scaleX(0.9);transform-origin:0 0;">Flow Direction</div>
<div class="t lbl" style="left:574.5px;top:127.16px;font-size:8.2px;transform:scaleX(0.9);transform-origin:0 0;">Spacing</div>
<div class="t lbl" style="left:574.5px;top:154.86px;font-size:8.2px;transform:scaleX(0.9);transform-origin:0 0;">Step Labels</div>
<div class="t lbl" style="left:574.5px;top:175.76px;font-size:8.2px;transform:scaleX(0.9);transform-origin:0 0;">Step Toolip</div>
<div class="t lbl" style="left:574.5px;top:273.06px;font-size:8.2px;transform:scaleX(0.9);transform-origin:0 0;">Show Start Label</div>
<div class="t lbl" style="left:574.5px;top:294.76px;font-size:8.2px;transform:scaleX(0.9);transform-origin:0 0;">Step Label Font Size</div>
<div class="t lbl" style="left:574.5px;top:315.76px;font-size:8.2px;transform:scaleX(0.9);transform-origin:0 0;">Nodes</div>
<div class="t lbl" style="left:574.5px;top:337.36px;font-size:8.2px;transform:scaleX(0.9);transform-origin:0 0;">Node Labels</div>
<div class="t lbl" style="left:574.5px;top:359.26px;font-size:8.2px;transform:scaleX(0.9);transform-origin:0 0;">Node Label Font Size</div>
<div class="t lbl" style="left:574.5px;top:379.76px;font-size:8.2px;transform:scaleX(0.9);transform-origin:0 0;">Duration Format</div>
<div class="t lbl" style="left:574.5px;top:401.36px;font-size:8.2px;transform:scaleX(0.9);transform-origin:0 0;">Colors</div>
<div class="t lbl" style="left:574.5px;top:437.56px;font-size:8.2px;transform:scaleX(0.9);transform-origin:0 0;">Zoom to fit</div>
<div class="t lbl" style="left:764.9px;top:273.06px;font-size:8.2px;transform:scaleX(0.9);transform-origin:0 0;">Show End Label</div>
<div class="dd" style="left:647.2px;top:99.0px;width:87.6px;height:18.8px"></div>
<div class="t " style="left:658.4px;top:103.82px;font-size:8.6px;transform:scaleX(0.92);transform-origin:0 0;color:#444">Top to bottom</div>
<svg class="a" style="left:719.8px;top:106.6px" width="6" height="4"><path d="M0 0.3 H5.6 L2.8 3.3Z" fill="#555"/></svg>
<div class="dd" style="left:647.3px;top:287.3px;width:64.4px;height:19.5px"></div>
<div class="t " style="left:658.2px;top:292.47px;font-size:8.6px;transform:scaleX(0.92);transform-origin:0 0;color:#444">Normal</div>
<svg class="a" style="left:696.7px;top:295.2px" width="6" height="4"><path d="M0 0.3 H5.6 L2.8 3.3Z" fill="#555"/></svg>
<div class="dd" style="left:647.3px;top:351.8px;width:64.4px;height:19.2px"></div>
<div class="t " style="left:658.2px;top:356.82px;font-size:8.6px;transform:scaleX(0.92);transform-origin:0 0;color:#444">Normal</div>
<svg class="a" style="left:696.7px;top:359.6px" width="6" height="4"><path d="M0 0.3 H5.6 L2.8 3.3Z" fill="#555"/></svg>
<div class="t " style="left:647.6px;top:128.49px;font-size:8.4px;transform:scaleX(0.9);transform-origin:0 0;color:#555">Column</div>
<div class="t " style="left:746.2px;top:128.49px;font-size:8.4px;transform:scaleX(0.9);transform-origin:0 0;color:#555">Layer</div>
<div class="dd" style="left:682px;top:123.7px;width:45.6px;height:17.8px"></div>
<div class="dd" style="left:773.9px;top:123.7px;width:44.1px;height:17.8px"></div>
<div class="t " style="left:695.3px;top:128.49px;font-size:8.4px;transform:scaleX(0.9);transform-origin:0 0;color:#555">40</div>
<div class="t " style="left:786.8px;top:128.49px;font-size:8.4px;transform:scaleX(0.9);transform-origin:0 0;color:#555">30</div>
<div class="cb" style="left:654.1px;top:152.6px"></div>
<div class="t ct" style="left:669.3px;top:153.29px;font-size:8.4px;transform:scaleX(0.9);transform-origin:0 0;"># work items</div>
<div class="cb" style="left:728.9px;top:152.6px"></div>
<div class="t ct" style="left:744.1px;top:153.29px;font-size:8.4px;transform:scaleX(0.9);transform-origin:0 0;">% total</div>
<div class="cb" style="left:783.6px;top:152.6px"></div>
<div class="t ct" style="left:798.8px;top:153.29px;font-size:8.4px;transform:scaleX(0.9);transform-origin:0 0;">average duration</div>
<div class="cb" style="left:654.1px;top:174.5px"></div>
<div class="t ct" style="left:669.3px;top:175.19px;font-size:8.4px;transform:scaleX(0.9);transform-origin:0 0;"># work items</div>
<div class="cb" style="left:729.6px;top:174.5px"></div>
<div class="t ct" style="left:744.8px;top:175.19px;font-size:8.4px;transform:scaleX(0.9);transform-origin:0 0;">% total</div>
<div class="cb" style="left:783.6px;top:174.5px"></div>
<div class="t ct" style="left:798.8px;top:175.19px;font-size:8.4px;transform:scaleX(0.9);transform-origin:0 0;">average duration</div>
<div class="cb" style="left:872.3px;top:174.5px"></div>
<div class="t ct" style="left:887.5px;top:175.19px;font-size:8.4px;transform:scaleX(0.9);transform-origin:0 0;">min duration</div>
<div class="cb" style="left:654.1px;top:190.2px"></div>
<div class="t ct" style="left:669.3px;top:190.89px;font-size:8.4px;transform:scaleX(0.9);transform-origin:0 0;">max duration</div>
<div class="cb" style="left:730.8px;top:190.2px"></div>
<div class="t ct" style="left:746.0px;top:190.89px;font-size:8.4px;transform:scaleX(0.9);transform-origin:0 0;">std deviation</div>
<div class="cu" style="left:805.3px;top:190.2px"></div>
<div class="t ct" style="left:820.5px;top:190.89px;font-size:8.4px;transform:scaleX(0.9);transform-origin:0 0;">comments - internal</div>
<div class="cu" style="left:654.1px;top:206.0px"></div>
<div class="t ct" style="left:669.3px;top:206.69px;font-size:8.4px;transform:scaleX(0.9);transform-origin:0 0;">avg comments - internal</div>
<div class="cu" style="left:767.7px;top:206.0px"></div>
<div class="t ct" style="left:782.9px;top:206.69px;font-size:8.4px;transform:scaleX(0.9);transform-origin:0 0;">perc comments - internal</div>
<div class="cu" style="left:654.1px;top:221.7px"></div>
<div class="t ct" style="left:669.3px;top:222.39px;font-size:8.4px;transform:scaleX(0.9);transform-origin:0 0;">comments - customer</div>
<div class="cu" style="left:759.3px;top:221.7px"></div>
<div class="t ct" style="left:774.5px;top:222.39px;font-size:8.4px;transform:scaleX(0.9);transform-origin:0 0;">avg comments - customer</div>
<div class="cu" style="left:654.1px;top:237.3px"></div>
<div class="t ct" style="left:669.3px;top:237.99px;font-size:8.4px;transform:scaleX(0.9);transform-origin:0 0;">perc comments - customer</div>
<div class="cu" style="left:775.9px;top:237.3px"></div>
<div class="t ct" style="left:791.1px;top:237.99px;font-size:8.4px;transform:scaleX(0.9);transform-origin:0 0;">worklogs</div>
<div class="cu" style="left:837.5px;top:237.3px"></div>
<div class="t ct" style="left:852.7px;top:237.99px;font-size:8.4px;transform:scaleX(0.9);transform-origin:0 0;">avg worklogs</div>
<div class="cu" style="left:654.1px;top:253.0px"></div>
<div class="t ct" style="left:669.3px;top:253.69px;font-size:8.4px;transform:scaleX(0.9);transform-origin:0 0;">perc worklogs</div>
<div class="cu" style="left:733.2px;top:253.0px"></div>
<div class="t ct" style="left:748.4px;top:253.69px;font-size:8.4px;transform:scaleX(0.9);transform-origin:0 0;">total timespent</div>
<div class="cu" style="left:815.2px;top:253.0px"></div>
<div class="t ct" style="left:830.4px;top:253.69px;font-size:8.4px;transform:scaleX(0.9);transform-origin:0 0;">avg timespent</div>
<div class="cb" style="left:654.1px;top:271.2px"></div>
<div class="cb" style="left:845.1px;top:271.2px"></div>
<div class="cb" style="left:654.1px;top:314.2px"></div>
<div class="t ct" style="left:669.3px;top:314.89px;font-size:8.4px;transform:scaleX(0.9);transform-origin:0 0;">show start</div>
<div class="cb" style="left:720.1px;top:314.2px"></div>
<div class="t ct" style="left:735.3px;top:314.89px;font-size:8.4px;transform:scaleX(0.9);transform-origin:0 0;">show end</div>
<div class="cb" style="left:654.1px;top:335.8px"></div>
<div class="t ct" style="left:669.3px;top:336.49px;font-size:8.4px;transform:scaleX(0.9);transform-origin:0 0;"># work items</div>
<div class="cu" style="left:728.5px;top:335.8px"></div>
<div class="t ct" style="left:743.7px;top:336.49px;font-size:8.4px;transform:scaleX(0.9);transform-origin:0 0;">% total</div>
<div class="cb" style="left:654.1px;top:378.0px"></div>
<div class="t ct" style="left:669.3px;top:378.69px;font-size:8.4px;transform:scaleX(0.9);transform-origin:0 0;">days</div>
<div class="cb" style="left:701.5px;top:378.0px"></div>
<div class="t ct" style="left:716.7px;top:378.69px;font-size:8.4px;transform:scaleX(0.9);transform-origin:0 0;">hours</div>
<div class="cb" style="left:751.7px;top:378.0px"></div>
<div class="t ct" style="left:766.9px;top:378.69px;font-size:8.4px;transform:scaleX(0.9);transform-origin:0 0;">minutes</div>
<div class="cu" style="left:809.7px;top:378.0px"></div>
<div class="t ct" style="left:824.9px;top:378.69px;font-size:8.4px;transform:scaleX(0.9);transform-origin:0 0;">seconds</div>
<div class="t ct" style="left:647.7px;top:398.99px;font-size:8.4px;transform:scaleX(0.9);transform-origin:0 0;">Step</div>
<div class="sw" style="left:665.7px;top:398.8px;background:#fbc21c"></div>
<div class="t ct" style="left:697.3px;top:398.99px;font-size:8.4px;transform:scaleX(0.9);transform-origin:0 0;">Link Select</div>
<div class="sw" style="left:736.3px;top:398.8px;background:#6b6b6b"></div>
<div class="t ct" style="left:767.9px;top:398.99px;font-size:8.4px;transform:scaleX(0.9);transform-origin:0 0;">Animate</div>
<div class="sw" style="left:799.4px;top:398.8px;background:#4a8ee6"></div>
<div class="t ct" style="left:831.0px;top:398.99px;font-size:8.4px;transform:scaleX(0.9);transform-origin:0 0;">Step Loops</div>
<div class="sw" style="left:871.2px;top:398.8px;background:#1a6ef2"></div>
<div class="t ct" style="left:647.7px;top:415.09px;font-size:8.4px;transform:scaleX(0.9);transform-origin:0 0;">Visualizer Background</div>
<div class="sw" style="left:724.3px;top:414.9px;background:#ebebeb"></div>
<div class="t ct" style="left:756.2px;top:415.09px;font-size:8.4px;transform:scaleX(0.9);transform-origin:0 0;">Start Node</div>
<div class="sw" style="left:795.8px;top:414.9px;background:#9c9c9c"></div>
<div class="t ct" style="left:827.4px;top:415.09px;font-size:8.4px;transform:scaleX(0.9);transform-origin:0 0;">End Node</div>
<div class="sw" style="left:863.8px;top:414.9px;background:#9c9c9c"></div>
<div class="cu" style="left:654.3px;top:435.2px"></div>
<div class="a" style="left:647.3px;top:452px;width:57px;height:17.3px;border:1px solid #dde3ec;border-radius:5px;background:#fff"></div>
<div class="t " style="left:650.2px;top:456.94px;font-size:7.4px;font-weight:bold;color:#3473d4">Reset Settings</div>
<div class="a" style="left:571px;top:452px;width:0.8px;height:13px;background:#444"></div>
<div class="a" style="left:561.5px;top:292.3px;width:4.5px;height:12px;background:#ececec;border-radius:1px"></div>
<svg class="a" style="left:561.5px;top:292.3px" width="5" height="12"><g fill="#555"><rect x="0.8" y="2.6" width="1.3" height="1.2"/><rect x="2.7" y="2.6" width="1.3" height="1.2"/><rect x="0.8" y="5.4" width="1.3" height="1.2"/><rect x="2.7" y="5.4" width="1.3" height="1.2"/><rect x="0.8" y="8.2" width="1.3" height="1.2"/><rect x="2.7" y="8.2" width="1.3" height="1.2"/></g></svg>
<div class="a" style="left:958px;top:240px;width:32px;height:266px;background:linear-gradient(90deg,#e4e4e4,#f1f1f1 40%,#f4f4f4)"></div>
<div class="a" style="left:990px;top:46px;width:8px;height:460px;background:#fff"></div>
<div class="a" style="left:991.7px;top:53.9px;width:3.9px;height:436px;background:#8a8a8a;border-radius:2px"></div>
<svg class="a" style="left:991px;top:47.5px" width="6" height="4"><path d="M0.6 3.4 L2.8 0.6 L5 3.4Z" fill="#777"/></svg>
<svg class="a" style="left:991px;top:501.5px" width="6" height="4"><path d="M0.6 0.6 L2.8 3.4 L5 0.6Z" fill="#888"/></svg>
<div class="tab" style="top:46.5px;height:38.5px"></div>
<div class="tabt" style="left:975.1px;top:52.2px">SLICER</div>
<div class="tab" style="top:86.0px;height:42.3px"></div>
<div class="tabt" style="left:975.1px;top:92.4px">FILTERS</div>
<div class="tab" style="top:129.3px;height:57.2px"></div>
<div class="tabt" style="left:975.1px;top:136.2px">DISCOVERY</div>
<div class="a" style="left:953px;top:187px;width:35px;height:53.0px;background:#fff;border-radius:0 4px 4px 0;box-shadow:0 1px 1px rgba(0,0,0,.08)"></div>
<div class="tabt" style="left:975.1px;top:194px">SETTINGS</div>
</body></html>
